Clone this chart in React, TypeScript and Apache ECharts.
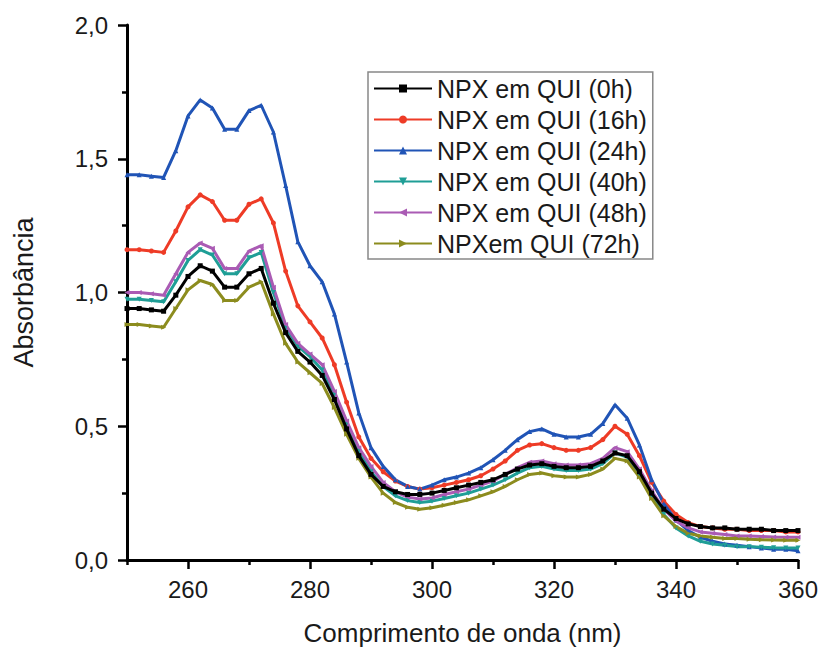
import React, { useEffect, useRef } from "react";
import * as echarts from "echarts";

const wavelengths: number[] = [];
for (let w = 250; w <= 360; w += 2) wavelengths.push(w);

const names = [
  "NPX em QUI (0h)",
  "NPX em QUI (16h)",
  "NPX em QUI (24h)",
  "NPX em QUI (40h)",
  "NPX em QUI (48h)",
  "NPXem QUI (72h)",
];

const h0 = [0.94, 0.94, 0.935, 0.93, 0.99, 1.06, 1.1, 1.08, 1.02, 1.02, 1.07, 1.09, 0.96, 0.85, 0.78, 0.74, 0.69, 0.6, 0.49, 0.39, 0.32, 0.275, 0.255, 0.245, 0.245, 0.25, 0.26, 0.27, 0.28, 0.29, 0.3, 0.32, 0.34, 0.355, 0.36, 0.35, 0.345, 0.345, 0.35, 0.37, 0.4, 0.39, 0.33, 0.25, 0.19, 0.155, 0.135, 0.125, 0.12, 0.12, 0.115, 0.115, 0.115, 0.11, 0.11, 0.11];
const h16 = [1.16, 1.16, 1.155, 1.15, 1.23, 1.32, 1.365, 1.34, 1.27, 1.27, 1.33, 1.35, 1.26, 1.08, 0.95, 0.89, 0.83, 0.73, 0.59, 0.46, 0.38, 0.33, 0.295, 0.275, 0.265, 0.27, 0.28, 0.29, 0.3, 0.315, 0.34, 0.37, 0.41, 0.43, 0.435, 0.42, 0.41, 0.41, 0.42, 0.45, 0.5, 0.47, 0.39, 0.29, 0.22, 0.17, 0.14, 0.125, 0.12, 0.115, 0.115, 0.11, 0.11, 0.11, 0.105, 0.105];
const h24 = [1.44, 1.44, 1.435, 1.43, 1.53, 1.66, 1.72, 1.69, 1.61, 1.61, 1.68, 1.7, 1.6, 1.4, 1.19, 1.1, 1.04, 0.92, 0.74, 0.55, 0.42, 0.35, 0.3, 0.275, 0.265, 0.28, 0.3, 0.31, 0.325, 0.345, 0.375, 0.41, 0.45, 0.48, 0.49, 0.47, 0.46, 0.46, 0.47, 0.51, 0.58, 0.53, 0.43, 0.3, 0.21, 0.15, 0.11, 0.085, 0.07, 0.06, 0.055, 0.05, 0.045, 0.04, 0.04, 0.035];
const h40 = [0.975, 0.975, 0.97, 0.965, 1.04, 1.12, 1.16, 1.14, 1.07, 1.07, 1.13, 1.15, 1.0, 0.87, 0.8, 0.76, 0.71, 0.62, 0.51, 0.41, 0.33, 0.275, 0.24, 0.222, 0.215, 0.22, 0.23, 0.24, 0.25, 0.265, 0.28, 0.3, 0.325, 0.345, 0.35, 0.34, 0.335, 0.335, 0.34, 0.36, 0.4, 0.385, 0.32, 0.24, 0.17, 0.12, 0.09, 0.07, 0.06, 0.055, 0.05, 0.05, 0.048, 0.046, 0.045, 0.045];
const h48 = [1.0, 1.0, 0.995, 0.99, 1.07, 1.15, 1.185, 1.165, 1.09, 1.09, 1.155, 1.175, 1.02, 0.88, 0.81, 0.77, 0.73, 0.63, 0.52, 0.42, 0.35, 0.29, 0.255, 0.235, 0.228, 0.232, 0.245, 0.255, 0.265, 0.28, 0.295, 0.32, 0.345, 0.365, 0.37, 0.36, 0.355, 0.355, 0.36, 0.38, 0.42, 0.405, 0.34, 0.26, 0.19, 0.145, 0.12, 0.105, 0.1, 0.095, 0.09, 0.09, 0.088, 0.086, 0.085, 0.085];
const h72 = [0.88, 0.88, 0.875, 0.87, 0.94, 1.01, 1.045, 1.03, 0.97, 0.97, 1.02, 1.04, 0.92, 0.81, 0.74, 0.7, 0.66, 0.57, 0.47, 0.38, 0.31, 0.25, 0.215, 0.197, 0.19, 0.195, 0.205, 0.215, 0.225, 0.24, 0.255, 0.275, 0.3, 0.32, 0.325, 0.315, 0.31, 0.31, 0.32, 0.34, 0.38, 0.37, 0.31, 0.23, 0.165, 0.125, 0.1, 0.09, 0.085, 0.08, 0.08, 0.078, 0.076, 0.075, 0.074, 0.074];

const seriesValues = [h0, h16, h24, h40, h48, h72];
const colors = ["#000000", "#EE3B26", "#2054B6", "#1F9E96", "#AA5BB4", "#8C8C1E"];
const symbols = [
  "rect",
  "circle",
  "triangle",
  "path://M0,0 L10,0 L5,10 Z",
  "path://M0,5 L10,0 L10,10 Z",
  "path://M0,0 L10,5 L0,10 Z",
];

const majorX = [260, 280, 300, 320, 340, 360];
const minorX = [250, 270, 290, 310, 330, 350];

const FONT = "Liberation Sans, Arial, sans-serif";
const TEXT = "#1a1a1a";

export default function App() {
  const ref = useRef<HTMLDivElement>(null);
  useEffect(() => {
    if (!ref.current) return;
    const chart = echarts.init(ref.current, undefined, { renderer: "svg" });
    const axisLineStyle = { color: "#000", width: 3 };
    chart.setOption({
      animation: false,
      textStyle: { fontFamily: FONT },
      grid: { left: 127, right: 24, top: 25, bottom: 88, containLabel: false },
      legend: {
        orient: "vertical",
        left: 368,
        top: 72,
        padding: [4, 6, 3, 5],
        borderColor: "#888",
        borderWidth: 1.5,
        itemWidth: 58,
        itemHeight: 10,
        itemGap: 6,
        textStyle: { fontSize: 25, color: TEXT, fontFamily: FONT },
        data: names,
      },
      xAxis: [
        {
          type: "value",
          min: 250,
          max: 360,
          name: "Comprimento de onda (nm)",
          nameLocation: "middle",
          nameGap: 60,
          nameTextStyle: { fontSize: 26, color: TEXT, fontFamily: FONT },
          axisLine: { onZero: false, lineStyle: axisLineStyle },
          axisTick: { show: true, length: 9, lineStyle: { color: "#000", width: 2.5 }, customValues: majorX },
          axisLabel: { customValues: majorX, fontSize: 24, color: TEXT, margin: 17, fontFamily: FONT },
          splitLine: { show: false },
        },
        {
          type: "value",
          min: 250,
          max: 360,
          position: "bottom",
          axisLine: { show: false },
          axisTick: { show: true, length: 5, lineStyle: { color: "#000", width: 2.5 }, customValues: minorX },
          axisLabel: { show: false },
          splitLine: { show: false },
        },
      ],
      yAxis: {
        type: "value",
        min: 0,
        max: 2,
        interval: 0.5,
        name: "Absorbância",
        nameLocation: "middle",
        nameGap: 90,
        nameTextStyle: { fontSize: 27, color: TEXT, fontFamily: FONT },
        axisLine: { show: true, onZero: false, lineStyle: axisLineStyle },
        axisTick: { show: true, length: 9, lineStyle: { color: "#000", width: 2.5 } },
        minorTick: { show: true, splitNumber: 2, length: 5, lineStyle: { color: "#000", width: 2.5 } },
        axisLabel: {
          fontSize: 24,
          color: TEXT,
          margin: 19,
          fontFamily: FONT,
          formatter: (v: number) => v.toFixed(1).replace(".", ","),
        },
        splitLine: { show: false },
      },
      series: seriesValues.map((vals, i) => ({
        type: "line",
        name: names[i],
        xAxisIndex: 0,
        data: wavelengths.map((w, j) => [w, vals[j]]),
        symbol: symbols[i],
        symbolSize: 5,
        showAllSymbol: true,
        lineStyle: { color: colors[i], width: 3 },
        itemStyle: { color: colors[i] },
        z: i === 0 ? 5 : 2,
      })),
    });
    return () => chart.dispose();
  }, []);
  return (
    <div
      ref={ref}
      style={{ position: "absolute", left: 0, top: 0, width: 822, height: 651 }}
    />
  );
}
